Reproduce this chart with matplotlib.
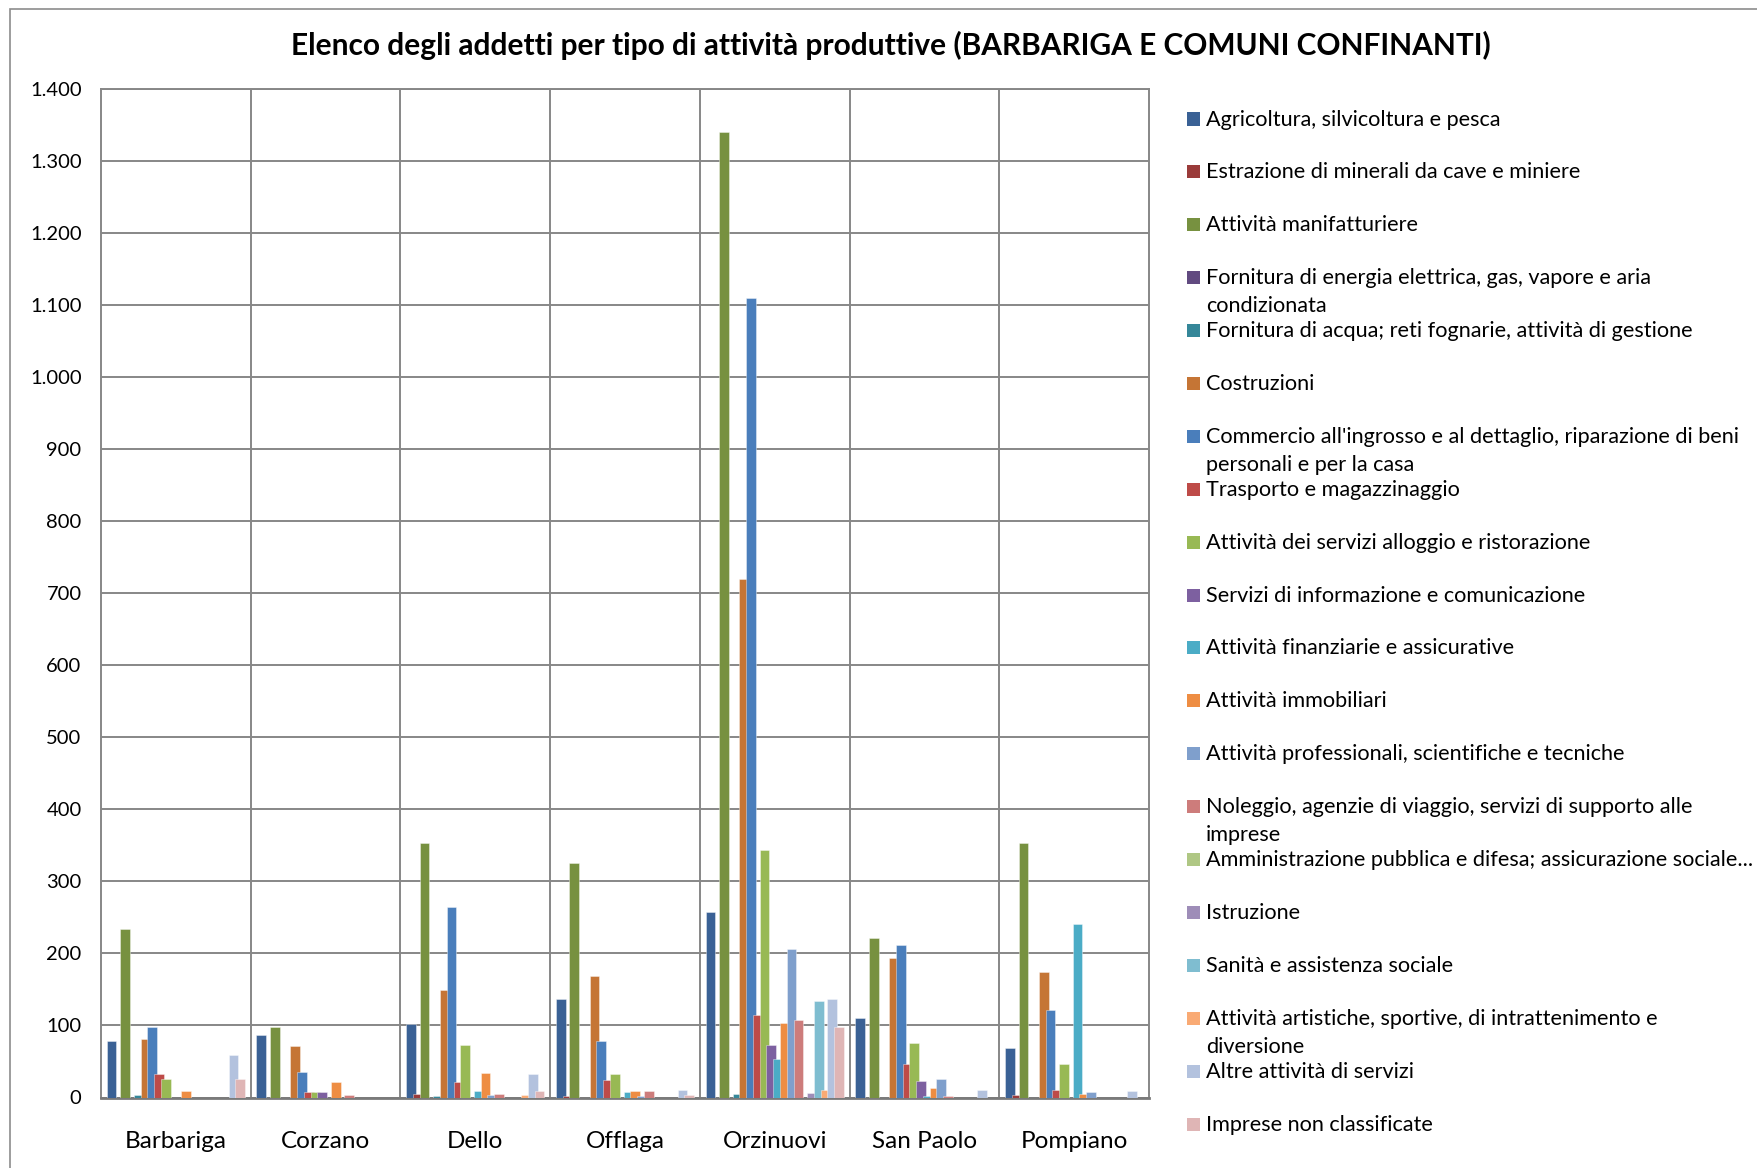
import numpy as np
import matplotlib
matplotlib.use("Agg")
import matplotlib.pyplot as plt
from matplotlib.patches import Rectangle

# ── DATA ─────────────────────────────────────────────────────────────────────
comuni = ["Barbariga", "Corzano", "Dello", "Offlaga", "Orzinuovi", "San Paolo", "Pompiano"]

settori = [
    "Agricoltura, silvicoltura e pesca",
    "Estrazione di minerali da cave e miniere",
    "Attività manifatturiere",
    "Fornitura di energia elettrica, gas, vapore e aria\ncondizionata",
    "Fornitura di acqua; reti fognarie, attività di gestione",
    "Costruzioni",
    "Commercio all'ingrosso e al dettaglio, riparazione di beni\npersonali e per la casa",
    "Trasporto e magazzinaggio",
    "Attività dei servizi alloggio e ristorazione",
    "Servizi di informazione e comunicazione",
    "Attività finanziarie e assicurative",
    "Attività immobiliari",
    "Attività professionali, scientifiche e tecniche",
    "Noleggio, agenzie di viaggio, servizi di supporto alle\nimprese",
    "Amministrazione pubblica e difesa; assicurazione sociale...",
    "Istruzione",
    "Sanità e assistenza sociale",
    "Attività artistiche, sportive, di intrattenimento e\ndiversione",
    "Altre attività di servizi",
    "Imprese non classificate",
]

# addetti per settore (one list per comune, 20 values in settori order)
barbariga = [79, 0, 234, 0, 3, 81, 98, 32, 25, 0, 0, 9, 0, 0, 0, 0, 0, 0, 59, 25]
corzano   = [87, 0, 98, 0, 0, 71, 36, 7, 7, 7, 0, 21, 0, 4, 0, 0, 0, 0, 0, 0]
dello     = [102, 5, 353, 0, 1.5, 149, 265, 21, 73, 0, 9, 34, 3, 5, 0, 0, 0, 3, 32, 9]
offlaga   = [137, 1.5, 326, 0, 0, 168, 79, 24, 32, 0, 7, 9, 1.5, 9, 0, 0, 0, 0, 11, 3]
orzinuovi = [257, 0, 1340, 0, 5, 720, 1110, 115, 344, 73, 54, 104, 206, 108, 0, 6, 134, 11, 137, 98]
san_paolo = [110, 0, 222, 0, 0, 194, 212, 46, 75, 23, 1.5, 13, 25, 1.5, 0, 0, 0, 0, 11, 0]
pompiano  = [69, 3, 353, 0, 0, 174, 122, 11, 46, 0, 241, 5, 7, 0, 0, 0, 0, 0, 9, 0]

values = np.array([barbariga, corzano, dello, offlaga, orzinuovi, san_paolo, pompiano])

colori = ["#3A6195", "#9A3B3A", "#779140", "#614A80", "#358799", "#C57535",
          "#4A7EBB", "#BE4B48", "#98B954", "#7D60A0", "#4BACC6", "#EE8D43",
          "#7F9FCC", "#CD7C7B", "#AFC784", "#9E8DB8", "#7FBDD0", "#F9AA74",
          "#B3C2DE", "#DFB5B5"]

y_ticks  = [0, 100, 200, 300, 400, 500, 600, 700, 800, 900, 1000, 1100, 1200, 1300, 1400]
y_labels = ["0", "100", "200", "300", "400", "500", "600", "700", "800", "900",
            "1.000", "1.100", "1.200", "1.300", "1.400"]

TITLE = "Elenco degli addetti per tipo di attività produttive (BARBARIGA E COMUNI CONFINANTI)"

# ── FIGURE ───────────────────────────────────────────────────────────────────
plt.rcParams["font.family"] = ["Lato", "DejaVu Sans"]
W, H = 1758, 1168
fig = plt.figure(figsize=(W / 100, H / 100), dpi=100, facecolor="white")

# outer chart border (cropped on right/bottom in the reference)
fig.patches.append(Rectangle((10 / W, -0.1), 1.2, 1 - 9 / H + 0.1,
                             transform=fig.transFigure, fill=False,
                             edgecolor="#8C8C8C", linewidth=1.2))

ax = fig.add_axes([101 / W, 1 - 1097.5 / H, 1048 / W, 1009 / H])
GRID = "#878787"

n_ser = len(settori)
step, width = 0.0452, 0.065
x0 = np.arange(len(comuni)) + 0.5
for k in range(n_ser):
    ax.bar(x0 + (k - (n_ser - 1) / 2) * step, values[:, k], width=width,
           color=colori[k], edgecolor=(1, 1, 1, 0.45), linewidth=0.6, zorder=3)

ax.set_xlim(0, len(comuni))
ax.set_ylim(0, 1400)
ax.set_yticks(y_ticks)
ax.set_yticklabels(y_labels, fontsize=14.5)
ax.set_xticks(x0)
ax.set_xticklabels(comuni, fontsize=17.5)
ax.tick_params(axis="y", length=0, pad=14)
ax.tick_params(axis="x", length=0, pad=24)

ax.grid(axis="y", color=GRID, linewidth=1.4, zorder=0)
for xv in range(1, len(comuni)):
    ax.axvline(xv, color=GRID, linewidth=1.4, zorder=0)
for s in ax.spines.values():
    s.set_color(GRID)
    s.set_linewidth(1.4)
ax.spines["bottom"].set_color("#7A7A7A")
ax.spines["bottom"].set_linewidth(2)

# ── TITLE ────────────────────────────────────────────────────────────────────
fig.text(891 / W, 1 - 45 / H, TITLE, ha="center", va="center",
         fontsize=21.5, fontweight="bold")

# ── LEGEND (fixed slots like the Excel legend) ──────────────────────────────
ly0, lstep = 118.5, 52.9
for k, (lab, c) in enumerate(zip(settori, colori)):
    yc = ly0 + k * lstep
    fig.patches.append(Rectangle((1187 / W, 1 - (yc + 7) / H), 13 / W, 13 / H,
                                 transform=fig.transFigure, facecolor=c,
                                 edgecolor="none"))
    fig.text(1206 / W, 1 - (yc - 9) / H, lab, ha="left", va="top",
             fontsize=15.6, linespacing=1.5)

fig.savefig("out.png", dpi=100, facecolor="white")
